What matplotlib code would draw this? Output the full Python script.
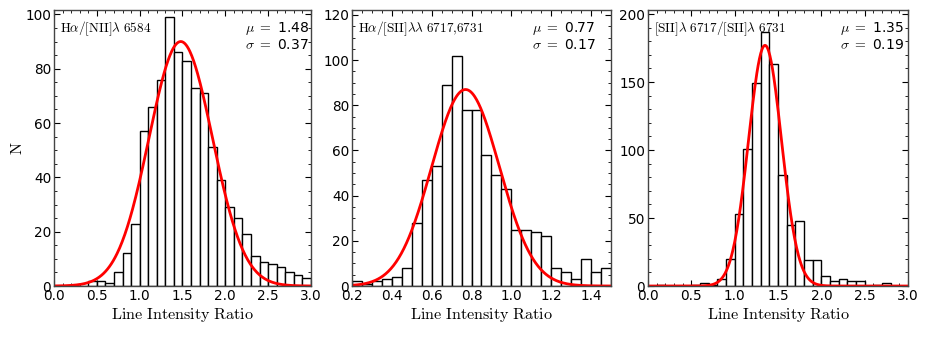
import numpy as np
import matplotlib
matplotlib.use("Agg")
import matplotlib.pyplot as plt
from matplotlib.ticker import MultipleLocator

plt.rcParams['mathtext.fontset'] = 'cm'
plt.rcParams['xtick.direction'] = 'in'
plt.rcParams['ytick.direction'] = 'in'
plt.rcParams['xtick.top'] = True
plt.rcParams['ytick.right'] = True

# bin edges and counts
edges1 = np.arange(0.0, 3.0001, 0.1)
counts1 = [0, 0, 0, 0, 2, 2, 1, 5, 12, 23, 57, 66, 76, 99, 86, 83, 73, 71, 51, 39,
           29, 25, 19, 11, 9, 8, 7, 5, 4, 3]

edges2 = np.arange(0.2, 1.5001, 0.05)
counts2 = [2, 1, 2, 3, 4, 8, 28, 47, 53, 89, 102, 78, 78, 58, 49, 43, 25, 25, 24, 22,
           8, 6, 3, 12, 6, 8]

edges3 = np.arange(0.0, 3.0001, 0.1)
counts3 = [0, 1, 0, 0, 0, 1, 2, 1, 5, 20, 53, 101, 149, 187, 163, 82, 45, 48, 19, 19,
           7, 4, 5, 4, 4, 0, 1, 2, 0, 0]

# gaussian fits (mu, sigma, peak height)
mus = [1.48, 0.77, 1.35]
sigmas = [0.37, 0.17, 0.19]
peaks = [90, 87, 177]

labels = [r'$\mathrm{H\alpha/[NII]\lambda\ 6584}$',
          r'$\mathrm{H\alpha/[SII]\lambda\lambda\ 6717{,}6731}$',
          r'$\mathrm{[SII]\lambda\ 6717/[SII]\lambda\ 6731}$']
xlims = [(0, 3), (0.2, 1.5), (0, 3)]
ylims = [(0, 101.6), (0, 122.2), (0, 203)]
xmajor = [0.5, 0.2, 0.5]
xminor = [0.1, 0.05, 0.1]
ymajor = [20, 20, 50]
yminor = [5, 5, 10]
stat_x = [0.745, 0.695, 0.737]

fig = plt.figure(figsize=(9.26, 3.37), dpi=100)
lefts = [0.0583, 0.3801, 0.6998]
widths = [0.2775, 0.2797, 0.2808]

data = [(edges1, counts1), (edges2, counts2), (edges3, counts3)]
for i in range(3):
    ax = fig.add_axes([lefts[i], 0.1513, widths[i], 0.819])
    e, c = data[i]
    ax.bar(e[:-1], c, width=np.diff(e), align='edge', facecolor='white',
           edgecolor='black', linewidth=1.0)
    xx = np.linspace(xlims[i][0], xlims[i][1], 400)
    ax.plot(xx, peaks[i] * np.exp(-0.5 * ((xx - mus[i]) / sigmas[i]) ** 2),
            color='red', linewidth=2)
    ax.set_xlim(*xlims[i])
    ax.set_ylim(*ylims[i])
    ax.xaxis.set_major_locator(MultipleLocator(xmajor[i]))
    ax.xaxis.set_minor_locator(MultipleLocator(xminor[i]))
    ax.yaxis.set_major_locator(MultipleLocator(ymajor[i]))
    ax.yaxis.set_minor_locator(MultipleLocator(yminor[i]))
    ax.tick_params(which='major', length=4, width=0.8, labelsize=9.8, pad=2)
    ax.tick_params(which='minor', length=2, width=0.6)
    for s in ax.spines.values():
        s.set_color('#444444')
        s.set_linewidth(1.0)
    ax.set_xlabel(r'$\mathrm{Line\ Intensity\ Ratio}$', fontsize=11.6, labelpad=2)
    ax.text(0.022, 0.965, labels[i], transform=ax.transAxes, fontsize=9.5,
            va='top', ha='left')
    ax.text(stat_x[i], 0.965, r'$\mu\ =$ %.2f' % mus[i] + '\n' + r'$\sigma\ =$ %.2f' % sigmas[i],
            transform=ax.transAxes, fontsize=10, va='top', ha='left', linespacing=1.1)
    if i == 0:
        ax.set_ylabel(r'$\mathrm{N}$', fontsize=11.6, labelpad=0)

fig.savefig('out.png', dpi=100)
